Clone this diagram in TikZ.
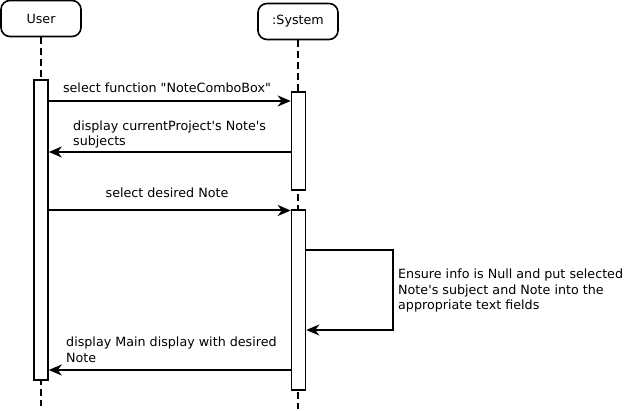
\documentclass[tikz,border=0pt]{standalone}
\usepackage{fontspec}
\setmainfont{DejaVu Sans}
\usetikzlibrary{arrows.meta,positioning}
\tikzset{head/.style={draw=black,line width=1.6pt,rounded corners=9pt,minimum width=80pt,minimum height=36pt,inner sep=0pt}}
\tikzset{bar/.style={draw=black,fill=white,line width=1.6pt,minimum width=14pt,inner sep=0pt}}
\tikzset{life/.style={line width=1.1pt,dash pattern=on 7pt off 4pt}}
\tikzset{msg/.style={line width=2pt,-{Stealth[length=13pt,width=11pt,inset=4pt]}}}
\tikzset{lbl/.style={align=left,inner sep=0pt,font=\fontsize{12.7}{15.6}\selectfont}}

\begin{document}
\begin{tikzpicture}[x=1pt,y=-1pt]
\useasboundingbox (0,0) rectangle (626,411);
% \draw[help lines] (0,0) grid (626,411);
\node (user) [head] at (41,18.5) {\fontsize{12.7}{15}\selectfont User};
\node (sys) [head] at (298,21.5) {\fontsize{12.7}{15}\selectfont :System};
\coordinate (ue) at (41,406);
\coordinate (se) at (298,409);
\draw[life] (user) -- (ue);
\draw[life] (sys) -- (se);
%
\node (ua) [bar,minimum height=300pt] at (41,230) {};
\node (sa) [bar,minimum height=98pt] at (298.5,141) {};
\node (sb) [bar,minimum height=180pt] at (298.5,300) {};
%
\coordinate (m1) at (ua.east |- 0,101);
\draw[msg] (m1) -- (m1 -| sa.west);
\node (t1) [lbl,anchor=base] at (167,93) {select function \textquotedbl NoteComboBox\textquotedbl};
\coordinate (m2) at (sa.west |- 0,152);
\draw[msg] (m2) -- (m2 -| ua.east);
\node (t2) [lbl,anchor=base west] at (73,146) {display currentProject\textquotesingle s Note\textquotesingle s\\subjects};
\coordinate (m3) at (ua.east |- 0,210.5);
\draw[msg] (m3) -- (m3 -| sb.west);
\node (t3) [lbl,anchor=base] at (167,198) {select desired Note};
\coordinate (s1) at (sb.east |- 0,250);
\coordinate (s2) at (sb.east |- 0,330);
\draw[msg] (s1) -- (393,250) -- (393,330) -- (s2);
\node (t4) [lbl,anchor=base west] at (398,310) {Ensure info is Null and put selected\\Note\textquotesingle s subject and Note into the\\appropriate text fields};
\coordinate (m4) at (sb.west |- 0,370);
\draw[msg] (m4) -- (m4 -| ua.east);
\node (t5) [lbl,anchor=base west] at (66,362) {display Main display with desired\\Note};
\end{tikzpicture}
\end{document}
